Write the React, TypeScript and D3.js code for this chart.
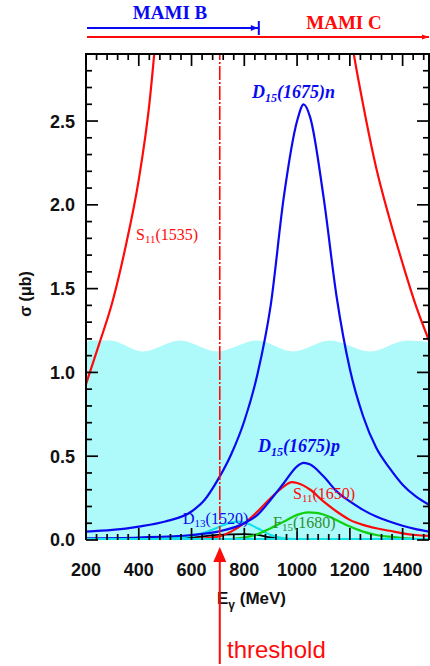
import React from "react";
import * as d3 from "d3";

// ---- data (energies in MeV, cross sections in μb) ----
const xTicks = [200, 400, 600, 800, 1000, 1200, 1400];
const yTicks = [0, 0.5, 1.0, 1.5, 2.0, 2.5];

const cyanE = [200, 212, 290, 416, 556, 697, 848, 985, 1125, 1277, 1417, 1500];
const cyanTop = [1.16, 1.19, 1.19, 1.125, 1.19, 1.125, 1.19, 1.125, 1.19, 1.125, 1.19, 1.18];

const s1535LeftE = [200, 250, 300, 350, 400, 440, 470];
const s1535LeftV = [0.93, 1.17, 1.42, 1.75, 2.15, 2.6, 3.1];
const s1535RightE = [1190, 1215, 1250, 1300, 1350, 1400, 1450, 1500];
const s1535RightV = [3.15, 2.9, 2.6, 2.22, 1.92, 1.65, 1.4, 1.19];

const d15nE = [200, 300, 400, 500, 600, 650, 700, 750, 800, 850, 900, 950, 1000, 1025, 1050, 1100, 1150, 1200, 1250, 1300, 1350, 1400, 1450, 1500];
const d15nV = [0.05, 0.06, 0.08, 0.11, 0.17, 0.24, 0.36, 0.51, 0.71, 0.99, 1.4, 2.05, 2.5, 2.6, 2.52, 2.05, 1.45, 1.02, 0.74, 0.55, 0.43, 0.33, 0.26, 0.21];

const d15pE = [200, 400, 600, 700, 800, 850, 900, 950, 1000, 1025, 1050, 1100, 1150, 1200, 1250, 1300, 1350, 1400, 1450, 1500];
const d15pV = [0.01, 0.015, 0.03, 0.05, 0.1, 0.15, 0.24, 0.34, 0.44, 0.46, 0.45, 0.38, 0.29, 0.23, 0.18, 0.14, 0.11, 0.085, 0.065, 0.05];

const s1650E = [200, 600, 700, 750, 800, 850, 900, 950, 980, 1000, 1050, 1100, 1150, 1200, 1250, 1300, 1350, 1400, 1450, 1500];
const s1650V = [0, 0.005, 0.02, 0.05, 0.1, 0.17, 0.25, 0.32, 0.345, 0.34, 0.3, 0.23, 0.17, 0.12, 0.09, 0.07, 0.055, 0.04, 0.03, 0.025];

const f1680E = [200, 700, 800, 850, 900, 950, 1000, 1040, 1080, 1120, 1160, 1200, 1250, 1300, 1350, 1400, 1500];
const f1680V = [0, 0.003, 0.015, 0.035, 0.07, 0.11, 0.15, 0.165, 0.16, 0.14, 0.11, 0.08, 0.05, 0.03, 0.02, 0.012, 0.005];

const d1520E = [200, 500, 600, 650, 700, 750, 780, 810, 850, 900, 950, 1000, 1100, 1500];
const d1520V = [0, 0.01, 0.025, 0.045, 0.075, 0.105, 0.11, 0.1, 0.07, 0.03, 0.01, 0.005, 0.002, 0];

const blackE = [200, 500, 600, 700, 800, 850, 900, 950, 1000, 1500];
const blackV = [0, 0.005, 0.015, 0.03, 0.035, 0.03, 0.015, 0.005, 0, 0];

const thresholdE = 707;
const mamiBEnd = 855;

// ---- geometry ----
const W = 430;
const H = 666;
const x = d3.scaleLinear().domain([200, 1500]).range([86, 429]);
const y = d3.scaleLinear().domain([0, 2.9]).range([540, 54]);

const zip = (e: number[], v: number[]) => e.map((d, i) => [d, v[i]] as [number, number]);
const line = d3
  .line<[number, number]>()
  .x((d) => x(d[0]))
  .y((d) => y(d[1]))
  .curve(d3.curveMonotoneX);
const area = d3
  .area<[number, number]>()
  .x((d) => x(d[0]))
  .y0(() => y(0))
  .y1((d) => y(d[1]))
  .curve(d3.curveMonotoneX);

const RED = "#ff0a0a";
const BLUE = "#0a0af0";
const GREEN = "#10d010";
const DKGREEN = "#2f8f2f";
const CYAN = "#10e0e8";
const FILL = "#aef9f9";

export default function App() {
  const [x0, x1] = x.range();
  const [yb, yt] = y.range();
  const minorX = d3.range(200, 1500.1, 40);
  const minorY = d3.range(0, 2.91, 0.1);
  const sansFont = "'Liberation Sans', Arial, sans-serif";
  const serifFont = "'Liberation Serif', 'Times New Roman', serif";
  const tx = x(thresholdE);

  return (
    <svg
      width={W}
      height={H}
      viewBox={`0 0 ${W} ${H}`}
      style={{ position: "absolute", left: 0, top: 0, background: "#fff" }}
    >
      <defs>
        <clipPath id="plot">
          <rect x={x0} y={yt} width={x1 - x0} height={yb - yt} />
        </clipPath>
      </defs>

      {/* cyan band */}
      <path d={area(zip(cyanE, cyanTop)) || ""} fill={FILL} stroke="none" />

      {/* curves */}
      <g clipPath="url(#plot)" fill="none" strokeWidth={2.2}>
        <path d={line(zip(blackE, blackV)) || ""} stroke="#000" strokeWidth={1.8} />
        <path d={line(zip(d1520E, d1520V)) || ""} stroke={CYAN} />
        <path d={line(zip(f1680E, f1680V)) || ""} stroke={GREEN} />
        <path d={line(zip(s1650E, s1650V)) || ""} stroke={RED} />
        <path d={line(zip(d15pE, d15pV)) || ""} stroke={BLUE} />
        <path d={line(zip(d15nE, d15nV)) || ""} stroke={BLUE} />
        <path d={line(zip(s1535LeftE, s1535LeftV)) || ""} stroke={RED} />
        <path d={line(zip(s1535RightE, s1535RightV)) || ""} stroke={RED} />
        <line x1={x0} x2={x1} y1={yb - 1} y2={yb - 1} stroke={CYAN} strokeWidth={2} />
      </g>

      {/* threshold dash-dot line */}
      <line
        x1={tx}
        x2={tx}
        y1={yb}
        y2={yt}
        stroke={RED}
        strokeWidth={1.6}
        strokeDasharray="14,2,2,2"
      />

      {/* ticks */}
      <g stroke="#000" strokeWidth={1.7}>
        {minorX.map((v) => {
          const major = Math.abs((v - 200) % 200) < 1e-6;
          const len = major ? 12 : 6;
          return (
            <g key={"xt" + v}>
              <line x1={x(v)} x2={x(v)} y1={yt} y2={yt + len} />
              <line x1={x(v)} x2={x(v)} y1={yb} y2={yb - len} />
            </g>
          );
        })}
        {minorY.map((v, i) => {
          const major = i % 5 === 0;
          const len = major ? 12 : 6;
          return (
            <g key={"yt" + i}>
              <line x1={x0} x2={x0 + len} y1={y(v)} y2={y(v)} />
              <line x1={x1} x2={x1 - len} y1={y(v)} y2={y(v)} />
            </g>
          );
        })}
      </g>

      {/* frame */}
      <path
        d={`M${x0},${yb} L${x0},${yt} L${x1},${yt} L${x1},${yb}`}
        fill="none"
        stroke="#000"
        strokeWidth={2}
      />

      {/* y tick labels */}
      <g fontFamily={sansFont} fontSize={18} fontWeight="bold" fill="#111" textAnchor="end">
        {yTicks.map((v) => (
          <text key={"yl" + v} x={75} y={y(v)} dy="0.36em">
            {v.toFixed(1)}
          </text>
        ))}
      </g>
      {/* x tick labels */}
      <g fontFamily={sansFont} fontSize={18} fontWeight="bold" fill="#111" textAnchor="middle">
        {xTicks.map((v) => (
          <text key={"xl" + v} x={x(v)} y={576}>
            {v}
          </text>
        ))}
      </g>

      {/* axis titles */}
      <text
        transform={`translate(31,294) rotate(-90)`}
        fontFamily={sansFont}
        fontSize={16}
        fontWeight="bold"
        fill="#111"
        textAnchor="middle"
      >
        σ (μb)
      </text>
      <text x={217} y={604} fontFamily={sansFont} fontSize={17} fontWeight="bold" fill="#111">
        E<tspan fontSize={12} dy={5}>γ</tspan>
        <tspan dy={-5}> (MeV)</tspan>
      </text>

      {/* threshold arrow below */}
      <line x1={tx} x2={tx} y1={558} y2={664} stroke={RED} strokeWidth={2} />
      <path d={`M${tx},${547} L${tx - 6.5},${562} L${tx + 6.5},${562} Z`} fill={RED} />
      <text x={227} y={658} fontFamily={sansFont} fontSize={24} fill={RED}>
        threshold
      </text>

      {/* MAMI ranges */}
      <line x1={x(200) + 1} x2={x(mamiBEnd)} y1={28} y2={28} stroke={BLUE} strokeWidth={2} />
      <path d={`M${x(mamiBEnd) - 1},28 L${x(mamiBEnd) - 8},25 L${x(mamiBEnd) - 8},31 Z`} fill={BLUE} />
      <line x1={x(mamiBEnd)} x2={x(mamiBEnd)} y1={21} y2={35} stroke={BLUE} strokeWidth={2} />
      <line x1={x(200) + 1} x2={x(1500)} y1={37} y2={37} stroke={RED} strokeWidth={2} />
      <path d={`M${x(1500)},37 L${x(1500) - 7},34.5 L${x(1500) - 7},39.5 Z`} fill={RED} />
      <text x={170} y={19} fontFamily={serifFont} fontSize={19} fontWeight="bold" fill={BLUE} textAnchor="middle">
        MAMI B
      </text>
      <text x={344} y={29} fontFamily={serifFont} fontSize={19} fontWeight="bold" fill={RED} textAnchor="middle">
        MAMI C
      </text>

      {/* curve labels */}
      <text x={252} y={98} fontFamily={serifFont} fontSize={18} fontStyle="italic" fontWeight="bold" fill={BLUE}>
        D<tspan fontSize={12} dy={4}>15</tspan>
        <tspan dy={-4}>(1675)n</tspan>
      </text>
      <text x={258} y={452} fontFamily={serifFont} fontSize={18} fontStyle="italic" fontWeight="bold" fill={BLUE}>
        D<tspan fontSize={12} dy={4}>15</tspan>
        <tspan dy={-4}>(1675)p</tspan>
      </text>
      <text x={136} y={240} fontFamily={serifFont} fontSize={16} fill={RED}>
        S<tspan fontSize={11} dy={3}>11</tspan>
        <tspan dy={-3}>(1535)</tspan>
      </text>
      <text x={293} y={499} fontFamily={serifFont} fontSize={16} fill={RED}>
        S<tspan fontSize={11} dy={3}>11</tspan>
        <tspan dy={-3}>(1650)</tspan>
      </text>
      <text x={183} y={524} fontFamily={serifFont} fontSize={16} fill={BLUE}>
        D<tspan fontSize={11} dy={3}>13</tspan>
        <tspan dy={-3}>(1520)</tspan>
      </text>
      <text x={273} y={528} fontFamily={serifFont} fontSize={16} fill={DKGREEN}>
        F<tspan fontSize={11} dy={3}>15</tspan>
        <tspan dy={-3}>(1680)</tspan>
      </text>
    </svg>
  );
}
